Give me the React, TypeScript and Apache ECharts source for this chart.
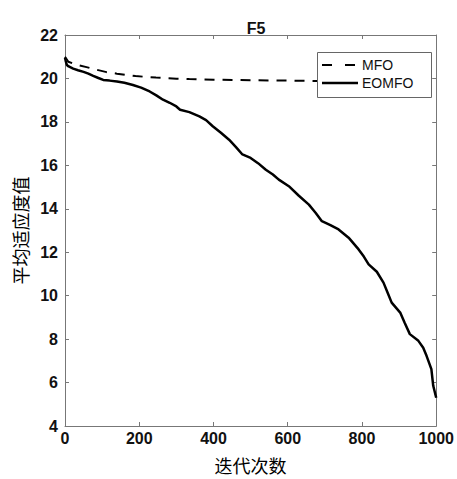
import React, { useEffect, useRef } from "react";
import * as echarts from "echarts";

const title = "F5";
const xName = "迭代次数";
const yName = "平均适应度值";
const seriesNames = ["MFO", "EOMFO"];

const mfoIter = [0, 9, 30, 58, 85, 112, 140, 165, 190, 219, 245, 273, 300, 335, 400, 500, 600, 700, 800, 900, 1000];
const mfoValue = [21.0, 20.77, 20.64, 20.52, 20.4, 20.29, 20.22, 20.16, 20.11, 20.07, 20.04, 20.01, 19.99, 19.97, 19.94, 19.92, 19.9, 19.88, 19.87, 19.86, 19.85];

const eomfoIter = [0, 2, 5, 10, 22, 35, 50, 63, 76, 90, 103, 120, 140, 160, 183, 205, 228, 246, 264, 282, 300, 310, 335, 362, 380, 398, 420, 442, 460, 478, 500, 520, 541, 560, 576, 603, 630, 657, 675, 692, 715, 737, 764, 791, 805, 818, 840, 858, 870, 880, 903, 915, 929, 952, 965, 974, 987, 992, 1000];
const eomfoValue = [20.95, 20.8, 20.62, 20.55, 20.45, 20.38, 20.3, 20.22, 20.12, 20.02, 19.93, 19.9, 19.86, 19.8, 19.7, 19.58, 19.4, 19.22, 19.02, 18.88, 18.71, 18.56, 18.45, 18.25, 18.08, 17.8, 17.5, 17.18, 16.85, 16.5, 16.34, 16.1, 15.8, 15.58, 15.34, 15.04, 14.6, 14.19, 13.82, 13.43, 13.25, 13.05, 12.67, 12.13, 11.8, 11.44, 11.1, 10.6, 10.1, 9.68, 9.22, 8.75, 8.23, 7.92, 7.6, 7.23, 6.62, 5.85, 5.3];

const xTicks = { min: 0, max: 1000, interval: 200 };
const yTicks = { min: 4, max: 22, interval: 2 };

export default function App() {
  const ref = useRef<HTMLDivElement>(null);
  useEffect(() => {
    if (!ref.current) return;
    const chart = echarts.init(ref.current, null, { renderer: "svg" });
    const axisColor = "#777";
    const latin = "Liberation Sans, Arial, sans-serif";
    const labelFont = {
      fontFamily: latin,
      fontSize: 16,
      fontWeight: "bold" as const,
      color: "#111",
    };
    const baseAxis = {
      axisLine: { show: true, onZero: false, lineStyle: { color: axisColor, width: 1 } },
      axisTick: { show: true, inside: true, length: 4, lineStyle: { color: axisColor } },
      splitLine: { show: false },
    };
    const dash = [10, 8];
    const LX = 317;
    const LY = 52;
    chart.setOption({
      animation: false,
      backgroundColor: "#fff",
      title: {
        text: title,
        left: 251,
        textAlign: "center",
        top: 15,
        textStyle: { fontFamily: latin, fontSize: 16, fontWeight: "bold", color: "#111" },
      },
      grid: { left: 65, right: 19, top: 35, bottom: 52, containLabel: false },
      graphic: [
        { type: "rect", z: 100, zlevel: 1, shape: { x: LX + 0.5, y: LY + 0.5, width: 114, height: 45 }, style: { fill: "#fff", stroke: "#666", lineWidth: 1 } },
        { type: "line", z: 101, zlevel: 1, shape: { x1: LX + 5, y1: LY + 13, x2: LX + 38, y2: LY + 13 }, style: { stroke: "#000", lineWidth: 2, lineDash: [10, 13] } },
        { type: "line", z: 101, zlevel: 1, shape: { x1: LX + 5, y1: LY + 31, x2: LX + 41, y2: LY + 31 }, style: { stroke: "#000", lineWidth: 2.5 } },
        { type: "text", z: 101, zlevel: 1, x: LX + 45, y: LY + 13, style: { text: seriesNames[0], fill: "#111", font: `14px ${latin}`, verticalAlign: "middle", align: "left" } },
        { type: "text", z: 101, zlevel: 1, x: LX + 45, y: LY + 31, style: { text: seriesNames[1], fill: "#111", font: `14px ${latin}`, verticalAlign: "middle", align: "left" } },
      ],
      xAxis: [
        {
          type: "value",
          position: "bottom",
          ...xTicks,
          name: xName,
          nameLocation: "middle",
          nameGap: 30,
          nameTextStyle: { fontFamily: "Noto Sans CJK SC", fontSize: 18, color: "#000" },
          axisLabel: { ...labelFont, margin: 4, formatter: (v: number) => String(v) },
          ...baseAxis,
        },
        {
          type: "value",
          position: "top",
          ...xTicks,
          axisLabel: { show: false },
          ...baseAxis,
        },
      ],
      yAxis: [
        {
          type: "value",
          position: "left",
          ...yTicks,
          name: yName,
          nameLocation: "middle",
          nameGap: 29,
          nameRotate: 90,
          nameTextStyle: { fontFamily: "Noto Sans CJK SC", fontSize: 18, color: "#000" },
          axisLabel: { ...labelFont, margin: 7, formatter: (v: number) => String(v) },
          ...baseAxis,
        },
        {
          type: "value",
          position: "right",
          ...yTicks,
          axisLabel: { show: false },
          ...baseAxis,
        },
      ],
      series: [
        {
          name: seriesNames[0],
          type: "line",
          xAxisIndex: 0,
          yAxisIndex: 0,
          showSymbol: false,
          symbol: "none",
          data: mfoIter.map((x, i) => [x, mfoValue[i]]),
          lineStyle: { color: "#000", width: 2, type: dash },
          itemStyle: { color: "#000" },
        },
        {
          name: seriesNames[1],
          type: "line",
          xAxisIndex: 0,
          yAxisIndex: 0,
          showSymbol: false,
          symbol: "none",
          data: eomfoIter.map((x, i) => [x, eomfoValue[i]]),
          lineStyle: { color: "#000", width: 2.5 },
          itemStyle: { color: "#000" },
        },
      ],
    });
    return () => chart.dispose();
  }, []);
  return (
    <div
      ref={ref}
      style={{ position: "fixed", left: 0, top: 0, width: 457, height: 479, background: "#fff" }}
    />
  );
}
